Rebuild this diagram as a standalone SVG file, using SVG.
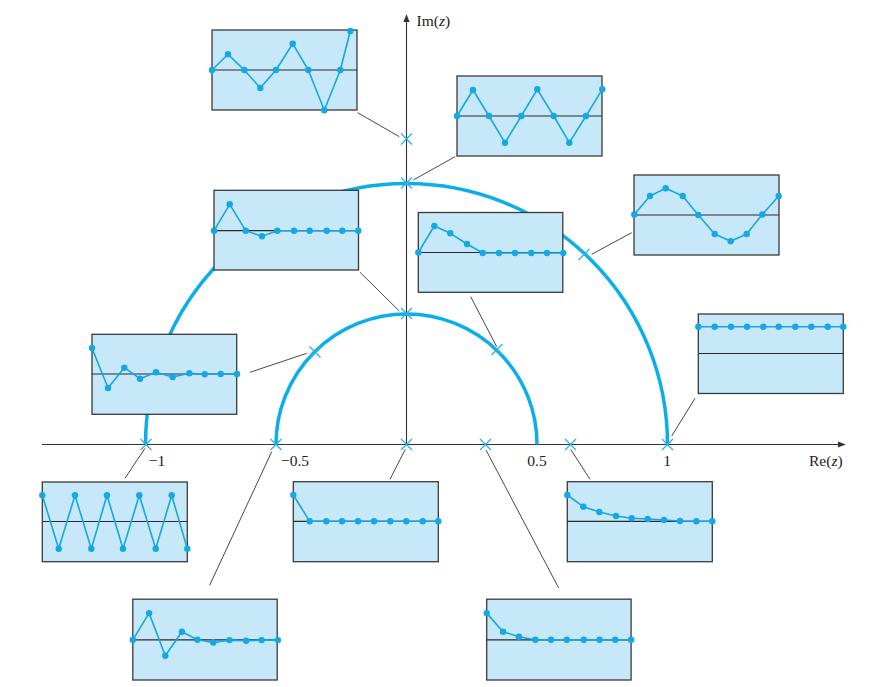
<svg xmlns="http://www.w3.org/2000/svg" width="869" height="687" viewBox="0 0 869 687">
<style>
.box{fill:#c6e8f8;stroke:#3a3a3a;stroke-width:1.3}
.zero{stroke:#2a2a2a;stroke-width:1.2}
.sig{fill:none;stroke:#14a8e6;stroke-width:1.6;stroke-linejoin:round}
.dot{fill:#14a8e6}
.arc{fill:none;stroke:#0aaeea;stroke-width:3.5}
.cross{stroke:#2bb0e8;stroke-width:1.2}
.conn{stroke:#333;stroke-width:0.9}
.ax{stroke:#333;stroke-width:1.1}
.lbl{font-family:"Liberation Serif",serif;font-size:15.5px;fill:#222}
</style>
<defs>
<marker id="arr" viewBox="0 0 10 10" refX="9" refY="5" markerWidth="8" markerHeight="8" markerUnits="userSpaceOnUse" orient="auto">
<path d="M0,1 L10,5 L0,9 Z" fill="#333"/>
</marker>
<g id="x"><line class="cross" x1="-5.5" y1="-5.5" x2="5.5" y2="5.5"/><line class="cross" x1="-5.5" y1="5.5" x2="5.5" y2="-5.5"/></g>
</defs>
<g id="axes">
<line class="ax" x1="42" y1="444.5" x2="845" y2="444.5" marker-end="url(#arr)"/>
<line class="ax" x1="406.5" y1="444.5" x2="406.5" y2="15" marker-end="url(#arr)"/>
</g>
<g id="arcs">
<path class="arc" d="M145.5,444.5 A261,261 0 0 1 667.5,444.5"/>
<path class="arc" d="M276,444.5 A130.5,130.5 0 0 1 537,444.5"/>
</g>
<g id="connectors">
<line class="conn" x1="357.7" y1="112.7" x2="399.3" y2="136.7"/>
<line class="conn" x1="455" y1="156.7" x2="413.3" y2="180"/>
<line class="conn" x1="360" y1="272.3" x2="399.3" y2="311"/>
<line class="conn" x1="470.7" y1="296.7" x2="496.7" y2="346.7"/>
<line class="conn" x1="591.7" y1="254.3" x2="631.7" y2="232.7"/>
<line class="conn" x1="695" y1="398.3" x2="671.7" y2="436"/>
<line class="conn" x1="250" y1="372.3" x2="306.7" y2="353.3"/>
<line class="conn" x1="125" y1="478.3" x2="145" y2="448.3"/>
<line class="conn" x1="271.7" y1="451.7" x2="209.6" y2="585.4"/>
<line class="conn" x1="390" y1="479.3" x2="405.3" y2="449.3"/>
<line class="conn" x1="486" y1="450" x2="558.7" y2="588"/>
<line class="conn" x1="590" y1="479.3" x2="570.7" y2="449.3"/>
</g>
<g id="poles">
<use href="#x" x="406.5" y="139"/>
<use href="#x" x="406.5" y="183"/>
<use href="#x" x="406.5" y="313.5"/>
<use href="#x" x="584" y="254.5"/>
<use href="#x" x="497" y="349.5"/>
<use href="#x" x="315" y="352"/>
<use href="#x" x="146" y="444.5"/>
<use href="#x" x="276" y="444.5"/>
<use href="#x" x="406.5" y="444.5"/>
<use href="#x" x="485.5" y="444.5"/>
<use href="#x" x="570.5" y="444.5"/>
<use href="#x" x="667.5" y="444.5"/>
</g>
<g id="box1">
<rect class="box" x="212" y="30" width="145" height="80"/>
<line class="zero" x1="212" y1="70" x2="357" y2="70"/>
<polyline class="sig" points="212,70 228,54.3 244.3,70 260.3,88 276,70 292.7,43.7 308.3,70 324.3,110.3 340.3,70 350.3,31"/>
<g class="dot"><circle cx="212" cy="70" r="3.2"/><circle cx="228" cy="54.3" r="3.2"/><circle cx="244.3" cy="70" r="3.2"/><circle cx="260.3" cy="88" r="3.2"/><circle cx="276" cy="70" r="3.2"/><circle cx="292.7" cy="43.7" r="3.2"/><circle cx="308.3" cy="70" r="3.2"/><circle cx="324.3" cy="110.3" r="3.2"/><circle cx="340.3" cy="70" r="3.2"/><circle cx="350.3" cy="31" r="3.2"/></g>
</g>
<g id="box2">
<rect class="box" x="457" y="76" width="145" height="80"/>
<line class="zero" x1="457" y1="116" x2="602" y2="116"/>
<polyline class="sig" points="457,116 473,90 489,116 505,142.7 521.3,116 537.3,89.3 553.7,116 569.3,142.7 586,116 602.3,89.3"/>
<g class="dot"><circle cx="457" cy="116" r="3.2"/><circle cx="473" cy="90" r="3.2"/><circle cx="489" cy="116" r="3.2"/><circle cx="505" cy="142.7" r="3.2"/><circle cx="521.3" cy="116" r="3.2"/><circle cx="537.3" cy="89.3" r="3.2"/><circle cx="553.7" cy="116" r="3.2"/><circle cx="569.3" cy="142.7" r="3.2"/><circle cx="586" cy="116" r="3.2"/><circle cx="602.3" cy="89.3" r="3.2"/></g>
</g>
<g id="box3">
<rect class="box" x="214" y="190.3" width="144.5" height="79.7"/>
<line class="zero" x1="214" y1="230.7" x2="358.5" y2="230.7"/>
<polyline class="sig" points="214,230.7 229.7,204.3 245.7,230.7 262,236.3 277.3,230.7 294,230.7 309.7,230.7 326.7,230.7 342.3,230.7 358.3,230.7"/>
<g class="dot"><circle cx="214" cy="230.7" r="3.2"/><circle cx="229.7" cy="204.3" r="3.2"/><circle cx="245.7" cy="230.7" r="3.2"/><circle cx="262" cy="236.3" r="3.2"/><circle cx="277.3" cy="230.7" r="3.2"/><circle cx="294" cy="230.7" r="3.2"/><circle cx="309.7" cy="230.7" r="3.2"/><circle cx="326.7" cy="230.7" r="3.2"/><circle cx="342.3" cy="230.7" r="3.2"/><circle cx="358.3" cy="230.7" r="3.2"/></g>
</g>
<g id="box4">
<rect class="box" x="418.3" y="212.5" width="144.5" height="79.8"/>
<line class="zero" x1="418.3" y1="252.5" x2="562.8" y2="252.5"/>
<polyline class="sig" points="418.3,252.5 434.3,226 450.3,233.3 467,244 482.7,253 499,253 515,253 531.3,253 547,253 563.3,253"/>
<g class="dot"><circle cx="418.3" cy="252.5" r="3.2"/><circle cx="434.3" cy="226" r="3.2"/><circle cx="450.3" cy="233.3" r="3.2"/><circle cx="467" cy="244" r="3.2"/><circle cx="482.7" cy="253" r="3.2"/><circle cx="499" cy="253" r="3.2"/><circle cx="515" cy="253" r="3.2"/><circle cx="531.3" cy="253" r="3.2"/><circle cx="547" cy="253" r="3.2"/><circle cx="563.3" cy="253" r="3.2"/></g>
</g>
<g id="box5">
<rect class="box" x="634" y="175" width="145" height="80"/>
<line class="zero" x1="634" y1="215" x2="779" y2="215"/>
<polyline class="sig" points="634.3,214.5 650,196 665.7,188.3 682.7,196 698.3,215 714.7,234 730.7,241.3 746.7,234 762.3,214.5 778.7,196"/>
<g class="dot"><circle cx="634.3" cy="214.5" r="3.2"/><circle cx="650" cy="196" r="3.2"/><circle cx="665.7" cy="188.3" r="3.2"/><circle cx="682.7" cy="196" r="3.2"/><circle cx="698.3" cy="215" r="3.2"/><circle cx="714.7" cy="234" r="3.2"/><circle cx="730.7" cy="241.3" r="3.2"/><circle cx="746.7" cy="234" r="3.2"/><circle cx="762.3" cy="214.5" r="3.2"/><circle cx="778.7" cy="196" r="3.2"/></g>
</g>
<g id="box6">
<rect class="box" x="698.3" y="314" width="145" height="79.5"/>
<line class="zero" x1="698.3" y1="353.5" x2="843.3" y2="353.5"/>
<polyline class="sig" points="698.3,326.7 843.3,326.7"/>
<g class="dot"><circle cx="698.3" cy="326.7" r="3.2"/><circle cx="714.7" cy="326.7" r="3.2"/><circle cx="731" cy="326.7" r="3.2"/><circle cx="747" cy="326.7" r="3.2"/><circle cx="763.3" cy="326.7" r="3.2"/><circle cx="778.7" cy="326.7" r="3.2"/><circle cx="795.3" cy="326.7" r="3.2"/><circle cx="811.3" cy="326.7" r="3.2"/><circle cx="827.7" cy="326.7" r="3.2"/><circle cx="843.3" cy="326.7" r="3.2"/></g>
</g>
<g id="box7">
<rect class="box" x="92" y="334.3" width="144.7" height="80"/>
<line class="zero" x1="92" y1="374" x2="236.7" y2="374"/>
<polyline class="sig" points="92,348 108,388 124.3,367.7 140,378.7 156,372.3 172.7,377 189.3,373.3 204.7,374.3 220.7,374 237,374"/>
<g class="dot"><circle cx="92" cy="348" r="3.2"/><circle cx="108" cy="388" r="3.2"/><circle cx="124.3" cy="367.7" r="3.2"/><circle cx="140" cy="378.7" r="3.2"/><circle cx="156" cy="372.3" r="3.2"/><circle cx="172.7" cy="377" r="3.2"/><circle cx="189.3" cy="373.3" r="3.2"/><circle cx="204.7" cy="374.3" r="3.2"/><circle cx="220.7" cy="374" r="3.2"/><circle cx="237" cy="374" r="3.2"/></g>
</g>
<g id="box8">
<rect class="box" x="42.3" y="482" width="145" height="79.7"/>
<line class="zero" x1="42.3" y1="521.5" x2="187.3" y2="521.5"/>
<polyline class="sig" points="42.3,495.3 58.7,548.7 75,495.3 91.3,548.7 107,495.3 123,548.7 139.3,495.3 155.7,548.7 171.7,495.3 187.3,548.7"/>
<g class="dot"><circle cx="42.3" cy="495.3" r="3.2"/><circle cx="58.7" cy="548.7" r="3.2"/><circle cx="75" cy="495.3" r="3.2"/><circle cx="91.3" cy="548.7" r="3.2"/><circle cx="107" cy="495.3" r="3.2"/><circle cx="123" cy="548.7" r="3.2"/><circle cx="139.3" cy="495.3" r="3.2"/><circle cx="155.7" cy="548.7" r="3.2"/><circle cx="171.7" cy="495.3" r="3.2"/><circle cx="187.3" cy="548.7" r="3.2"/></g>
</g>
<g id="box9">
<rect class="box" x="293.3" y="481.7" width="145" height="80"/>
<line class="zero" x1="293.3" y1="521.3" x2="438.3" y2="521.3"/>
<polyline class="sig" points="293.3,495 309.7,521.3 438.3,521.3"/>
<g class="dot"><circle cx="293.3" cy="495" r="3.2"/><circle cx="309.7" cy="521.3" r="3.2"/><circle cx="326.3" cy="521.3" r="3.2"/><circle cx="342" cy="521.3" r="3.2"/><circle cx="358" cy="521.3" r="3.2"/><circle cx="374" cy="521.3" r="3.2"/><circle cx="390.3" cy="521.3" r="3.2"/><circle cx="406.3" cy="521.3" r="3.2"/><circle cx="422.7" cy="521.3" r="3.2"/><circle cx="438.3" cy="521.3" r="3.2"/></g>
</g>
<g id="box10">
<rect class="box" x="567.3" y="481.7" width="145" height="80"/>
<line class="zero" x1="567.3" y1="521.3" x2="712.3" y2="521.3"/>
<polyline class="sig" points="567.3,495 583.3,506.7 599.3,512 616,516 631.7,518.3 647.7,519 664,520 680,521 696.3,521.3 712.3,521.3"/>
<g class="dot"><circle cx="567.3" cy="495" r="3.2"/><circle cx="583.3" cy="506.7" r="3.2"/><circle cx="599.3" cy="512" r="3.2"/><circle cx="616" cy="516" r="3.2"/><circle cx="631.7" cy="518.3" r="3.2"/><circle cx="647.7" cy="519" r="3.2"/><circle cx="664" cy="520" r="3.2"/><circle cx="680" cy="521" r="3.2"/><circle cx="696.3" cy="521.3" r="3.2"/><circle cx="712.3" cy="521.3" r="3.2"/></g>
</g>
<g id="box11">
<rect class="box" x="132.8" y="599.2" width="144.4" height="80.8"/>
<line class="zero" x1="132.8" y1="639.8" x2="277.2" y2="639.8"/>
<polyline class="sig" points="132.8,639.8 149.1,613.1 165.3,655.7 181.9,631.7 197.4,639.8 213.3,642.5 229.5,640.1 246.1,640.8 261.6,640.1 277.9,640.1"/>
<g class="dot"><circle cx="132.8" cy="639.8" r="3.2"/><circle cx="149.1" cy="613.1" r="3.2"/><circle cx="165.3" cy="655.7" r="3.2"/><circle cx="181.9" cy="631.7" r="3.2"/><circle cx="197.4" cy="639.8" r="3.2"/><circle cx="213.3" cy="642.5" r="3.2"/><circle cx="229.5" cy="640.1" r="3.2"/><circle cx="246.1" cy="640.8" r="3.2"/><circle cx="261.6" cy="640.1" r="3.2"/><circle cx="277.9" cy="640.1" r="3.2"/></g>
</g>
<g id="box12">
<rect class="box" x="486.7" y="599.2" width="144.4" height="80.8"/>
<line class="zero" x1="486.7" y1="639.8" x2="631.1" y2="639.8"/>
<polyline class="sig" points="486.7,613.1 503,631.7 518.9,636.7 535.4,639.8 631.1,639.8"/>
<g class="dot"><circle cx="486.7" cy="613.1" r="3.2"/><circle cx="503" cy="631.7" r="3.2"/><circle cx="518.9" cy="636.7" r="3.2"/><circle cx="535.4" cy="639.8" r="3.2"/><circle cx="551" cy="639.8" r="3.2"/><circle cx="566.8" cy="639.8" r="3.2"/><circle cx="583.8" cy="639.8" r="3.2"/><circle cx="599.6" cy="639.8" r="3.2"/><circle cx="615.2" cy="639.8" r="3.2"/><circle cx="631.1" cy="639.8" r="3.2"/></g>
</g>
<g id="labels" class="lbl">
<text x="416.5" y="25.5">Im(<tspan font-style="italic">z</tspan>)</text>
<text x="809" y="466">Re(<tspan font-style="italic">z</tspan>)</text>
<text x="157" y="466" text-anchor="middle">−1</text>
<text x="295" y="466" text-anchor="middle">−0.5</text>
<text x="537" y="466" text-anchor="middle">0.5</text>
<text x="667" y="466" text-anchor="middle">1</text>
</g>
</svg>
